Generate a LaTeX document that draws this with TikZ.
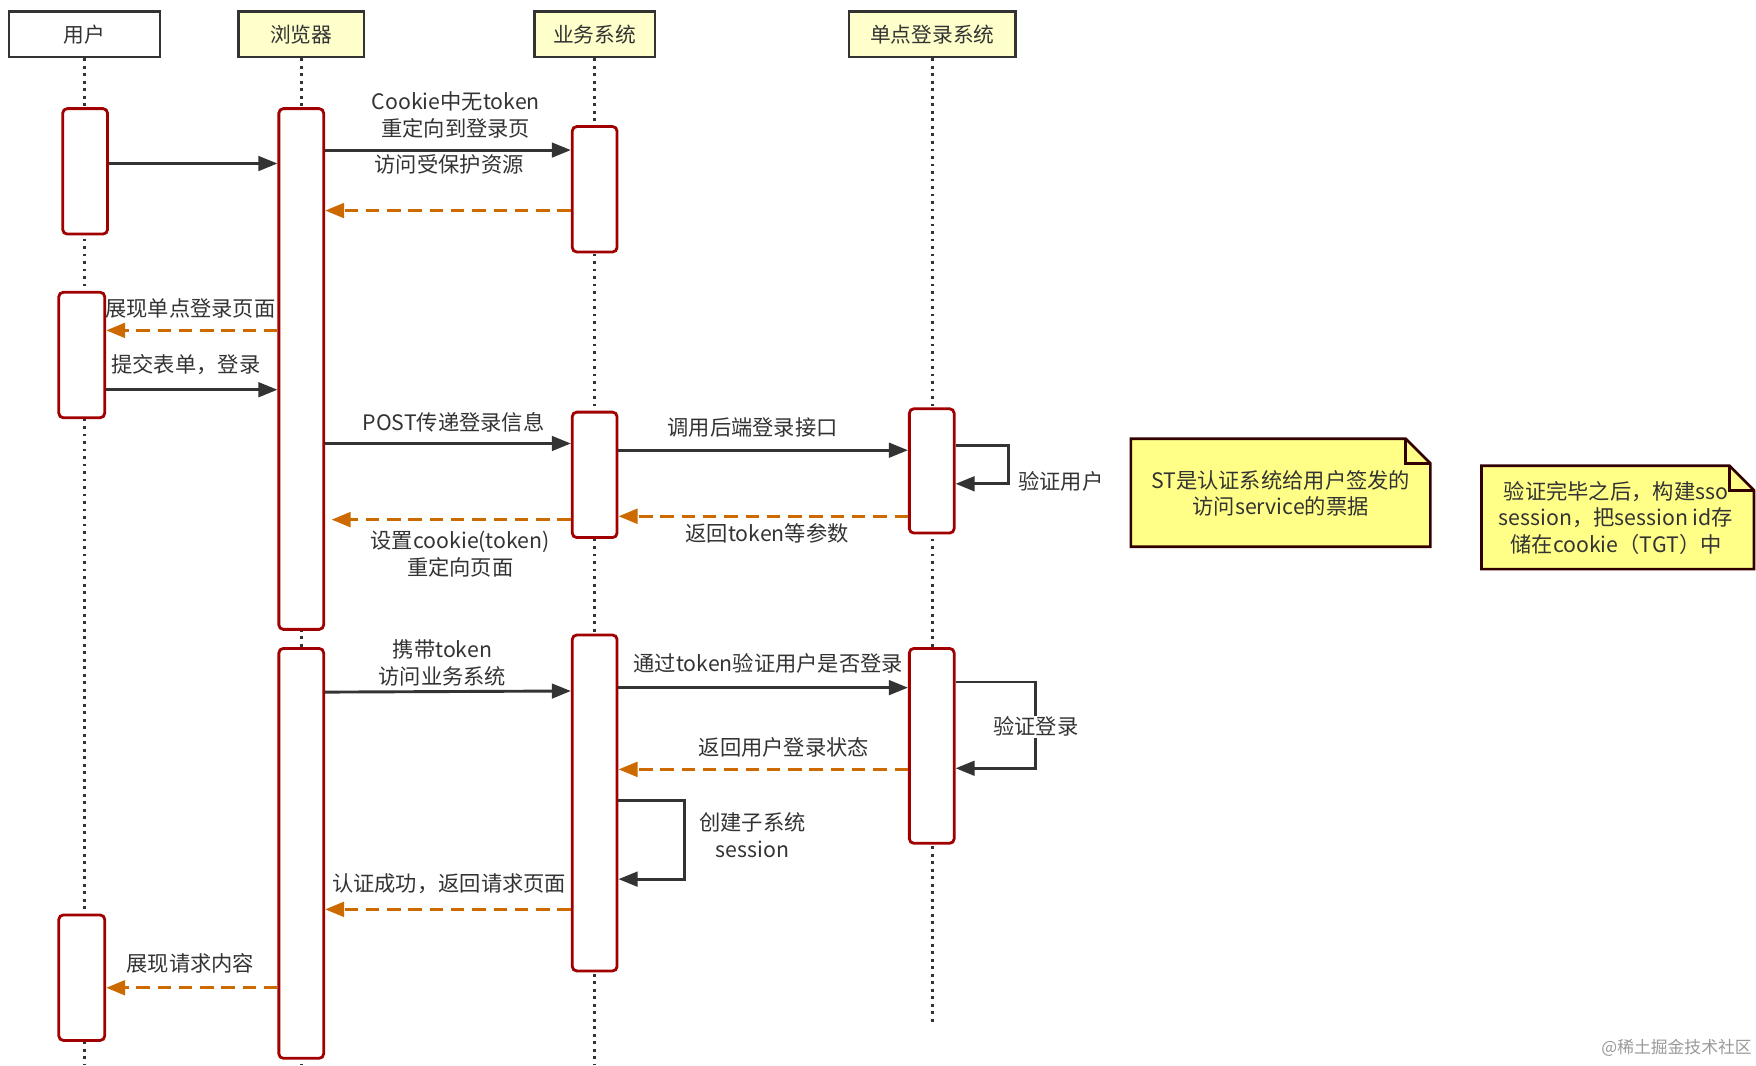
\documentclass[tikz,border=0pt]{standalone}
\usepackage{fontspec}
\setmainfont{Noto Sans CJK SC}
\usetikzlibrary{arrows.meta}
\definecolor{hdrfill}{HTML}{FFFFCC}
\definecolor{linedark}{HTML}{333333}
\definecolor{actred}{HTML}{A00000}
\definecolor{retorange}{HTML}{CC6A00}
\definecolor{notefill}{HTML}{FFFF88}
\definecolor{noteline}{HTML}{330000}
\definecolor{txt}{HTML}{333333}
\tikzset{
  hdr/.style={draw=linedark, line width=2.4pt, fill=hdrfill, inner sep=0pt, minimum height=41pt, text=txt, font=\fontsize{18.5}{22}\selectfont},
  act/.style={draw=actred, line width=2.5pt, fill=white, rounded corners=4pt, minimum width=40pt, inner sep=0pt},
  life/.style={draw=linedark, line width=2.5pt, dash pattern=on 2.5pt off 4.2pt},
  callarrow/.style={draw=linedark, line width=2.6pt, -{Triangle[length=17pt,width=13pt]}},
  retarrow/.style={draw=retorange, line width=3pt, dash pattern=on 12pt off 7pt, -{Triangle[length=17pt,width=13pt]}},
  lbl/.style={text=txt, align=center, inner sep=1pt, font=\fontsize{19}{24}\selectfont},
  notetext/.style={text=txt, align=center, inner sep=0pt, font=\fontsize{19}{23.5}\selectfont},
}
\begin{document}
\begin{tikzpicture}[x=1pt,y=-1pt]
\useasboundingbox (0,0) rectangle (1568,951);
% headers
\node[hdr, minimum width=135pt, fill=white] (hU) at (75.5,30.5) {用户};
\node[hdr, minimum width=112pt] (hB) at (269,30.5) {浏览器};
\node[hdr, minimum width=108pt] (hS) at (531,30.5) {业务系统};
\node[hdr, minimum width=149pt] (hO) at (832.5,30.5) {单点登录系统};
% lifelines
\draw[life] (hU.south) -- (hU.south |- 0,951);
\draw[life] (hB.south) -- (hB.south |- 0,951);
\draw[life] (hS.south) -- (hS.south |- 0,951);
\draw[life] (hO.south) -- (hO.south |- 0,915);
% activations
\node[act, minimum height=112pt] (u1) at (76,153) {};
\node[act, minimum width=41pt, minimum height=112pt] (u2) at (73,317) {};
\node[act, minimum width=41pt, minimum height=112pt] (u3) at (73,873) {};
\node[act, minimum height=465pt] (b1) at (269,329.5) {};
\node[act, minimum height=366pt] (b2) at (269,762) {};
\node[act, minimum height=112pt] (s1) at (531,169) {};
\node[act, minimum height=112pt] (s2) at (531,424) {};
\node[act, minimum height=300pt] (s3) at (531,717) {};
\node[act, minimum height=111pt] (o1) at (832,420.5) {};
\node[act, minimum height=174pt] (o2) at (832,666) {};
% messages
\draw[callarrow] (u1.east |- 0,146) -- (b1.west |- 0,146);
\draw[callarrow] (b1.east |- 0,134) -- (s1.west |- 0,134);
\node[lbl] (l1) at (407,103) {Cookie中无token\\重定向到登录页};
\node[lbl] (l2) at (401,147) {访问受保护资源};
\draw[retarrow] (s1.west |- 0,188) -- (b1.east |- 0,188);
\draw[retarrow] (b1.west |- 0,295) -- (u2.east |- 0,295);
\node[lbl] (l3) at (170,275) {展现单点登录页面};
\draw[callarrow] (u2.east |- 0,348) -- (b1.west |- 0,348);
\node[lbl] (l4) at (166,326) {提交表单，登录};
\draw[callarrow] (b1.east |- 0,396) -- (s2.west |- 0,396);
\node[lbl] (l5) at (405,377) {POST传递登录信息};
\draw[callarrow] (s2.east |- 0,402) -- (o1.west |- 0,402);
\node[lbl] (l6) at (672,382) {调用后端登录接口};
\draw[callarrow] (o1.east |- 0,398) -- ++(47,0) |- (o1.east |- 0,432);
\node[lbl, anchor=west] (l7) at (908,430) {验证用户};
\draw[retarrow] (o1.west |- 0,461) -- (s2.east |- 0,461);
\node[lbl] (l8) at (685,476) {返回token等参数};
\coordinate (b1in) at (296,464);
\draw[retarrow] (s2.west |- 0,464) -- (b1in);
\node[lbl] (l9) at (411,494.5) {设置cookie(token)\\重定向页面};
\draw[callarrow] (b2.east |- 0,618) -- (s3.west |- 0,617);
\node[lbl] (l10) at (395,592) {携带token\\访问业务系统};
\draw[callarrow] (s3.east |- 0,614) -- (o2.west |- 0,614);
\node[lbl] (l11) at (686,592) {通过token验证用户是否登录};
\draw[callarrow] (o2.east |- 0,609) -- ++(71,0) |- (o2.east |- 0,686);
\node[lbl, fill=white] (l12) at (925,649) {验证登录};
\draw[retarrow] (o2.west |- 0,687) -- (s3.east |- 0,687);
\node[lbl] (l13) at (700,667) {返回用户登录状态};
\draw[callarrow] (s3.east |- 0,715) -- ++(59,0) |- (s3.east |- 0,785);
\node[lbl] (l14) at (672,746) {创建子系统\\session};
\draw[retarrow] (s3.west |- 0,812) -- (b2.east |- 0,812);
\node[lbl] (l15) at (401,789) {认证成功，返回请求页面};
\draw[retarrow] (b2.west |- 0,882) -- (u3.east |- 0,882);
\node[lbl] (l16) at (170,860) {展现请求内容};
% notes
\node[minimum width=267pt, minimum height=96pt, inner sep=0pt] (n1) at (1143.5,440) {};
\filldraw[fill=notefill, draw=noteline, line width=2.4pt, line join=miter]
  (n1.south west) -- (n1.north west) -- ([xshift=-22pt]n1.north east) -- ([yshift=-22pt]n1.north east) -- (n1.south east) -- cycle;
\draw[draw=noteline, line width=2.4pt] ([xshift=-22pt]n1.north east) -- ([xshift=-22pt,yshift=-22pt]n1.north east) -- ([yshift=-22pt]n1.north east);
\node[notetext] (n1t) at (1143.5,440.5) {ST是认证系统给用户签发的\\访问service的票据};
\node[minimum width=243pt, minimum height=92pt, inner sep=0pt] (n2) at (1444.5,462) {};
\filldraw[fill=notefill, draw=noteline, line width=2.4pt, line join=miter]
  (n2.south west) -- (n2.north west) -- ([xshift=-22pt]n2.north east) -- ([yshift=-22pt]n2.north east) -- (n2.south east) -- cycle;
\draw[draw=noteline, line width=2.4pt] ([xshift=-22pt]n2.north east) -- ([xshift=-22pt,yshift=-22pt]n2.north east) -- ([yshift=-22pt]n2.north east);
\node[notetext] (n2t) at (1443,462.5) {验证完毕之后，构建sso\\session，把session id存\\储在cookie（TGT）中};
% watermark
\node[text=black!40, inner sep=0pt, font=\fontsize{15}{18}\selectfont] (wm) at (1497,936) {@稀土掘金技术社区};
\end{tikzpicture}
\end{document}
